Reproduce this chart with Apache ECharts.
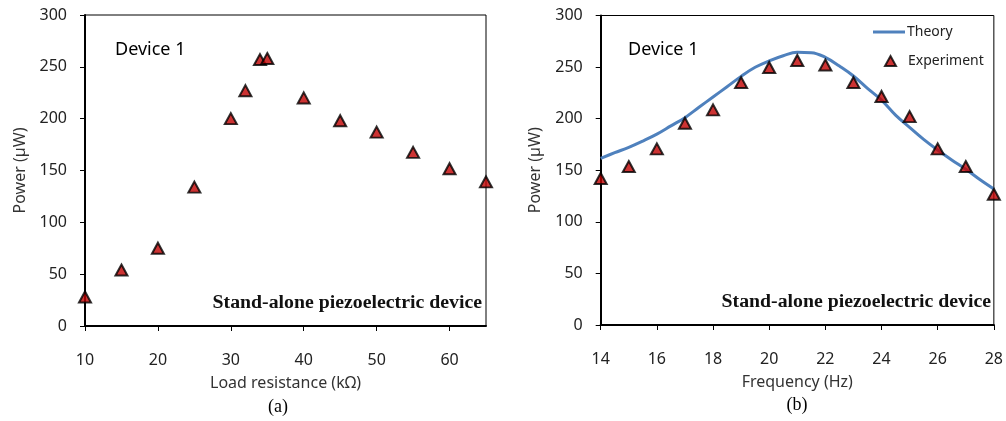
<!DOCTYPE html>
<html>
<head>
<meta charset="utf-8">
<script src="https://cdn.jsdelivr.net/npm/echarts@6/dist/echarts.min.js"></script>
<style>html,body{margin:0;padding:0;background:#fff}#c{width:1006px;height:421px}</style>
</head>
<body>
<div id="c"></div>
<script>
// ---- data ----
var loadResistance = [10, 15, 20, 25, 30, 32, 34, 35, 40, 45, 50, 55, 60, 65];
var powerLoad = [28, 54, 75, 134, 200, 227, 257, 258, 220, 198, 187, 167.5, 151.7, 139];

var expFreq = [14, 15, 16, 17, 18, 19, 20, 21, 22, 23, 24, 25, 26, 27, 28];
var expPower = [142, 153.6, 170.7, 195.6, 208.5, 235, 249.6, 256.4, 252, 235, 221.5, 202, 170.7, 153.6, 126.7];

var theoryFreq = [14, 14.5, 15, 15.5, 16, 16.5, 17, 17.5, 18, 18.5, 19, 19.5, 20, 20.5, 21, 21.5, 22, 22.5, 23, 23.5, 24, 24.5, 25, 25.5, 26, 26.5, 27, 27.5, 28];
var theoryPower = [161.6, 167, 172.2, 178.3, 185, 193, 201, 211, 221, 231, 241, 249.8, 256, 261, 264.3, 264, 259.5, 251, 241.4, 229.4, 218, 203.5, 191.6, 180, 169.6, 160, 151, 141, 131.8];

var xTicksLoad = {min: 10, max: 65, interval: 10};
var xTicksFreq = {min: 14, max: 28, interval: 2};
var yTicks = {min: 0, max: 300, interval: 50};

function zip(a, b) { return a.map(function (v, i) { return [v, b[i]]; }); }

var FONT = 'Noto Sans';
var labelStyle = {fontFamily: FONT, fontSize: 16, color: '#222'};
var nameStyle = {fontFamily: FONT, fontSize: 16, color: '#333'};

function yAxis(idx) {
  return {
    type: 'value', gridIndex: idx, min: yTicks.min, max: yTicks.max, interval: yTicks.interval,
    name: 'Power (µW)', nameLocation: 'middle', nameGap: 57, nameTextStyle: nameStyle,
    axisLine: {show: true, lineStyle: {color: '#000', width: 2}},
    axisTick: {show: true, length: 5, lineStyle: {color: '#000', width: 1}},
    axisLabel: Object.assign({margin: 18}, labelStyle),
    splitLine: {show: false}
  };
}
function xAxis(idx, t, name) {
  return {
    type: 'value', gridIndex: idx, min: t.min, max: t.max, interval: t.interval,
    name: name, nameLocation: 'middle', nameGap: 49, nameTextStyle: nameStyle,
    axisLine: {show: true, onZero: false, lineStyle: {color: '#000', width: 2}},
    axisTick: {show: true, length: 5, lineStyle: {color: '#000', width: 1}},
    axisLabel: Object.assign({margin: 26, showMaxLabel: idx === 1}, labelStyle),
    splitLine: {show: false}
  };
}

var markerStyle = {color: '#c00000', borderColor: '#000', borderWidth: 2};

var chart = echarts.init(document.getElementById('c'), null, {renderer: 'canvas'});
chart.setOption({
  animation: false,
  backgroundColor: '#fff',
  grid: [
    {left: 85, right: 520, top: 15, bottom: 95, show: true, borderColor: '#000', borderWidth: 1},
    {left: 600.7, right: 11, top: 15.5, bottom: 96, show: true, borderColor: '#000', borderWidth: 1}
  ],
  xAxis: [xAxis(0, xTicksLoad, 'Load resistance (kΩ)'), xAxis(1, xTicksFreq, 'Frequency (Hz)')],
  yAxis: [yAxis(0), yAxis(1)],
  legend: [
    {data: [{name: 'Theory', icon: 'rect'}], left: 873, top: 25, itemWidth: 32, itemHeight: 3, padding: 0,
     textStyle: {fontFamily: FONT, fontSize: 14, color: '#222', padding: [0, 0, 0, -3]}},
    {data: ['Experiment'], left: 884, top: 54, itemWidth: 11, itemHeight: 10, padding: 0,
     textStyle: {fontFamily: FONT, fontSize: 14, color: '#222', padding: [0, 0, 0, 7]}}
  ],
  series: [
    {type: 'scatter', name: 'Load', xAxisIndex: 0, yAxisIndex: 0, data: zip(loadResistance, powerLoad),
     symbol: 'triangle', symbolSize: [12, 11], itemStyle: markerStyle, clip: false},
    {type: 'line', name: 'Theory', xAxisIndex: 1, yAxisIndex: 1, data: zip(theoryFreq, theoryPower),
     smooth: 0.4, symbol: 'none', lineStyle: {color: '#4f81bd', width: 3}, itemStyle: {color: '#4f81bd'}},
    {type: 'scatter', name: 'Experiment', xAxisIndex: 1, yAxisIndex: 1, data: zip(expFreq, expPower),
     symbol: 'triangle', symbolSize: [12, 11], itemStyle: markerStyle, clip: false, z: 3}
  ],
  graphic: [
    {type: 'text', x: 115, y: 50, style: {text: 'Device 1', font: '18px "Noto Sans"', fill: '#000', verticalAlign: 'middle'}},
    {type: 'text', x: 628, y: 50, style: {text: 'Device 1', font: '18px "Noto Sans"', fill: '#000', verticalAlign: 'middle'}},
    {type: 'text', x: 482, y: 303, scaleX: 1.1, originX: 0, style: {text: 'Stand-alone piezoelectric device', font: 'bold 18px "Liberation Serif"', fill: '#111', align: 'right', verticalAlign: 'middle'}},
    {type: 'text', x: 991, y: 302, scaleX: 1.1, originX: 0, style: {text: 'Stand-alone piezoelectric device', font: 'bold 18px "Liberation Serif"', fill: '#111', align: 'right', verticalAlign: 'middle'}},
    {type: 'text', x: 278, y: 407, style: {text: '(a)', font: '18px "Liberation Serif"', fill: '#000', align: 'center', verticalAlign: 'middle'}},
    {type: 'text', x: 797, y: 405, style: {text: '(b)', font: '18px "Liberation Serif"', fill: '#000', align: 'center', verticalAlign: 'middle'}}
  ]
});
</script>
</body>
</html>
